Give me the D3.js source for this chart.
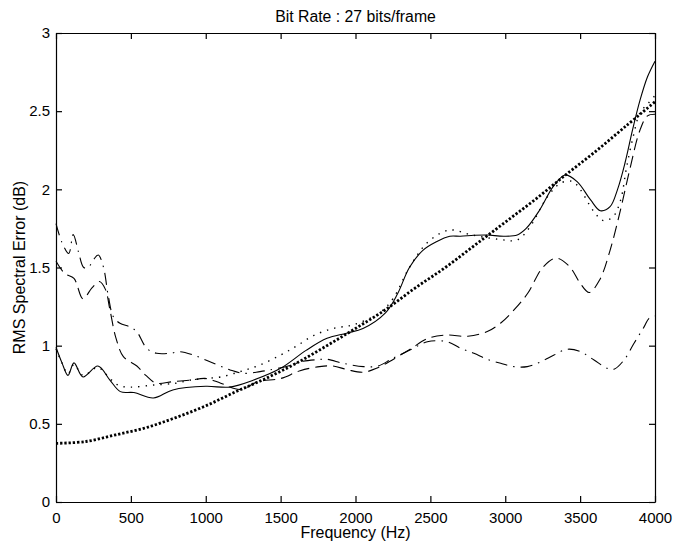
<!DOCTYPE html>
<html>
	<head>
		<title>Bit Rate : 27 bits/frame</title>

		<!--libs-->
		<script src="https://d3js.org/d3.v7.min.js"></script>

		<!--css-->
		<style>
			body {
				margin: 0;
				background: #fff;
			}
			.chart text {
				font-family: "Liberation Sans", Arial, Helvetica, sans-serif;
				fill: #000;
			}
		</style>
	</head>
	<body>
		<div class="chart"></div>

		<script>
			// data (Hz / dB)
			var xTicks = [0, 500, 1000, 1500, 2000, 2500, 3000, 3500, 4000];
			var yTicks = [0, 0.5, 1, 1.5, 2, 2.5, 3];

			var solidHz = [0, 40, 80, 120, 180, 280, 360, 430, 520, 650, 780, 1000, 1160, 1320, 1500, 1670, 1810, 1940, 2050, 2200, 2280, 2360, 2450, 2540, 2630, 2700, 2790, 2880, 2990, 3080, 3140, 3230, 3320, 3400, 3480, 3570, 3635, 3700, 3750, 3800, 3850, 3900, 3950, 4000];
			var solidDb = [0.99, 0.89, 0.81, 0.89, 0.80, 0.87, 0.78, 0.706, 0.70, 0.665, 0.717, 0.74, 0.735, 0.78, 0.855, 0.97, 1.047, 1.08, 1.11, 1.21, 1.33, 1.50, 1.61, 1.665, 1.70, 1.70, 1.706, 1.708, 1.70, 1.708, 1.75, 1.868, 2.017, 2.092, 2.049, 1.932, 1.863, 1.889, 2.0, 2.17, 2.38, 2.57, 2.72, 2.82];

			var dotHz = [0, 40, 80, 120, 180, 280, 360, 420, 500, 650, 800, 900, 1000, 1100, 1230, 1360, 1500, 1610, 1720, 1850, 1990, 2160, 2250, 2360, 2475, 2590, 2650, 2770, 2960, 3080, 3165, 3280, 3370, 3450, 3500, 3590, 3655, 3720, 3770, 3810, 3855, 3900, 3955, 4000];
			var dotDb = [0.98, 0.89, 0.82, 0.88, 0.81, 0.86, 0.79, 0.745, 0.735, 0.748, 0.76, 0.78, 0.79, 0.80, 0.834, 0.876, 0.94, 1.0, 1.065, 1.11, 1.135, 1.21, 1.30, 1.50, 1.655, 1.73, 1.74, 1.71, 1.68, 1.676, 1.76, 1.95, 2.04, 2.05, 2.0, 1.86, 1.80, 1.825, 1.93, 2.14, 2.34, 2.49, 2.55, 2.60];

			var dashHz = [0, 60, 120, 180, 240, 290, 330, 360, 400, 450, 540, 600, 670, 780, 900, 1000, 1100, 1230, 1350, 1500, 1630, 1760, 1850, 1950, 2050, 2140, 2300, 2370, 2480, 2610, 2750, 2880, 2970, 3060, 3150, 3250, 3340, 3430, 3500, 3560, 3630, 3700, 3770, 3830, 3900, 3950, 4000];
			var dashDb = [1.54, 1.46, 1.43, 1.30, 1.37, 1.41, 1.36, 1.23, 1.05, 0.93, 0.87, 0.81, 0.76, 0.77, 0.78, 0.79, 0.76, 0.72, 0.77, 0.79, 0.84, 0.866, 0.87, 0.845, 0.83, 0.855, 0.94, 0.98, 1.045, 1.068, 1.06, 1.09, 1.145, 1.23, 1.335, 1.50, 1.56, 1.505, 1.40, 1.34, 1.42, 1.61, 1.87, 2.12, 2.38, 2.47, 2.48];

			var dashDotHz = [0, 40, 85, 115, 150, 185, 215, 250, 282, 316, 350, 383, 427, 494, 539, 606, 672, 761, 828, 917, 1028, 1162, 1251, 1362, 1430, 1550, 1650, 1741, 1808, 1919, 2053, 2150, 2250, 2370, 2480, 2613, 2702, 2791, 2880, 2970, 3058, 3147, 3237, 3326, 3414, 3504, 3593, 3681, 3726, 3793, 3860, 3927, 3960, 4000];
			var dashDotDb = [1.78, 1.66, 1.59, 1.71, 1.60, 1.50, 1.50, 1.55, 1.58, 1.505, 1.313, 1.185, 1.143, 1.12, 1.09, 0.983, 0.951, 0.951, 0.961, 0.94, 0.897, 0.845, 0.823, 0.834, 0.845, 0.87, 0.90, 0.91, 0.913, 0.887, 0.866, 0.87, 0.92, 0.975, 1.025, 1.025, 0.983, 0.951, 0.913, 0.887, 0.866, 0.866, 0.897, 0.94, 0.977, 0.961, 0.908, 0.855, 0.849, 0.908, 1.015, 1.12, 1.175, 1.19];

			var thickHz = [0, 200, 400, 600, 800, 1000, 1200, 1400, 1600, 1800, 2000, 2200, 2400, 2600, 2800, 3000, 3200, 3400, 3600, 3800, 4000];
			var thickDb = [0.375, 0.387, 0.43, 0.475, 0.54, 0.615, 0.705, 0.79, 0.885, 0.995, 1.11, 1.23, 1.37, 1.50, 1.645, 1.79, 1.935, 2.09, 2.24, 2.40, 2.56];

			var W = 674, H = 544;
			var margin = {top: 33, right: 19, bottom: 42, left: 56},
			    width = W - margin.left - margin.right,
			    height = H - margin.top - margin.bottom;

			var x = d3.scaleLinear().domain([0, 4000]).range([0, width]);
			var y = d3.scaleLinear().domain([0, 3]).range([height, 0]);

			var svg = d3.select(".chart")
				.append("svg")
				.attr("width", W)
				.attr("height", H);

			var g = svg.append("g")
				.attr("transform", "translate(" + margin.left + "," + margin.top + ")");

			function zip(hz, db) {
				return hz.map(function(f, i) { return {f: f, v: db[i]}; });
			}

			var line = d3.line()
				.x(function(d) { return x(d.f); })
				.y(function(d) { return y(d.v); })
				.curve(d3.curveCatmullRom.alpha(0.5));

			var series = [
				{data: zip(thickHz, thickDb), w: 2.8, dash: "2.3,1.9"},
				{data: zip(dashDotHz, dashDotDb), w: 1.1, dash: "12,6,1.5,6"},
				{data: zip(dashHz, dashDb), w: 1.1, dash: "12,6"},
				{data: zip(dotHz, dotDb), w: 1.4, dash: "1.4,6"},
				{data: zip(solidHz, solidDb), w: 1.1, dash: null}
			];

			g.append("g").attr("class", "lines")
				.selectAll("path")
				.data(series)
				.enter().append("path")
				.attr("d", function(s) { return line(s.data); })
				.attr("fill", "none")
				.attr("stroke", "#000")
				.attr("stroke-width", function(s) { return s.w; })
				.attr("stroke-dasharray", function(s) { return s.dash; });

			// axes, ticks pointing inward
			g.append("g")
				.attr("transform", "translate(0," + height + ")")
				.call(d3.axisBottom(x).tickValues(xTicks).tickFormat(d3.format("d"))
					.tickSizeInner(-6).tickSizeOuter(0).tickPadding(10));

			g.append("g")
				.call(d3.axisTop(x).tickValues(xTicks).tickFormat("")
					.tickSizeInner(-6).tickSizeOuter(0));

			g.append("g")
				.call(d3.axisLeft(y).tickValues(yTicks).tickFormat(function(d) { return d; })
					.tickSizeInner(-6).tickSizeOuter(0).tickPadding(6));

			g.append("g")
				.attr("transform", "translate(" + width + ",0)")
				.call(d3.axisRight(y).tickValues(yTicks).tickFormat("")
					.tickSizeInner(-6).tickSizeOuter(0));

			g.selectAll(".domain, .tick line").attr("stroke", "#000").attr("stroke-width", 1.2);
			g.selectAll(".tick text")
				.style("font-family", "'Liberation Sans', Arial, sans-serif")
				.style("font-size", "15px")
				.attr("fill", "#000");

			// titles
			svg.append("text")
				.attr("x", margin.left + width / 2)
				.attr("y", 22)
				.attr("text-anchor", "middle")
				.style("font-size", "15.8px")
				.text("Bit Rate : 27 bits/frame");

			svg.append("text")
				.attr("x", margin.left + width / 2)
				.attr("y", 538)
				.attr("text-anchor", "middle")
				.style("font-size", "16px")
				.text("Frequency (Hz)");

			svg.append("text")
				.attr("transform", "translate(25," + (margin.top + height / 2) + ") rotate(-90)")
				.attr("text-anchor", "middle")
				.style("font-size", "16px")
				.text("RMS Spectral Error (dB)");
		</script>
	</body>
</html>
